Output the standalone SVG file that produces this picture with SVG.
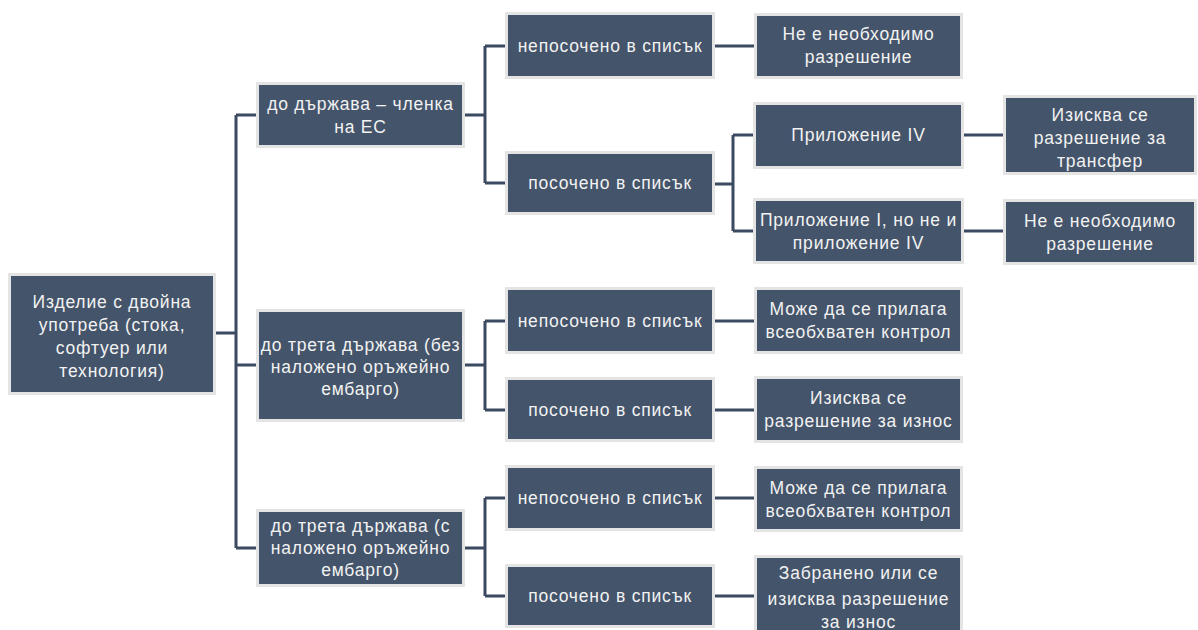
<svg xmlns="http://www.w3.org/2000/svg" width="1198" height="630" viewBox="0 0 1198 630">
<style>
.box{fill:#44546a;stroke:#e4e4e4;stroke-width:3}
.t{font-family:"Liberation Sans",Arial,sans-serif;font-size:17.5px;fill:#f2f2f2;text-anchor:middle;letter-spacing:0.8px}
.c{fill:none;stroke:#3b4a60;stroke-width:3}
</style>
<rect width="1198" height="630" fill="#ffffff"/>
<g id="connectors">
<path class="c" d="M213 333H236M236 115V548M236 115H259M236 365H259M236 548H259"/>
<path class="c" d="M462 115H485M485 46V183M485 46H508M485 183H508"/>
<path class="c" d="M462 365H485M485 321V410M485 321H508M485 410H508"/>
<path class="c" d="M462 548H485M485 498V596M485 498H508M485 596H508"/>
<path class="c" d="M712 46H756M712 184H733M733 135V231M733 135H756M733 231H756"/>
<path class="c" d="M961 135H1006M961 231H1006"/>
<path class="c" d="M712 321H756M712 410H756M712 498H756M712 596H756"/>
</g>
<g id="root">
<rect class="box" x="9.5" y="274.5" width="205" height="119"/>
<text class="t" x="112" y="308">Изделие с двойна</text>
<text class="t" x="112" y="331">употреба (стока,</text>
<text class="t" x="112" y="354">софтуер или</text>
<text class="t" x="112" y="377">технология)</text>
</g>
<g id="eu">
<rect class="box" x="257.5" y="83.5" width="206" height="63"/>
<text class="t" x="360.5" y="110">до държава – членка</text>
<text class="t" x="360.5" y="133">на ЕС</text>
</g>
<g id="third-no-embargo">
<rect class="box" x="257.5" y="310.5" width="206" height="110"/>
<text class="t" x="360.5" y="351">до трета държава (без</text>
<text class="t" x="360.5" y="373">наложено оръжейно</text>
<text class="t" x="360.5" y="395">ембарго)</text>
</g>
<g id="third-embargo">
<rect class="box" x="257.5" y="510.5" width="206" height="75"/>
<text class="t" x="360.5" y="532">до трета държава (с</text>
<text class="t" x="360.5" y="554">наложено оръжейно</text>
<text class="t" x="360.5" y="576">ембарго)</text>
</g>
<g id="eu-unlisted">
<rect class="box" x="506.5" y="13.5" width="207" height="64"/>
<text class="t" x="610" y="52">непосочено в списък</text>
</g>
<g id="eu-listed">
<rect class="box" x="506.5" y="152.5" width="207" height="61"/>
<text class="t" x="610" y="189">посочено в списък</text>
</g>
<g id="ne-unlisted">
<rect class="box" x="506.5" y="288.5" width="207" height="64"/>
<text class="t" x="610" y="327">непосочено в списък</text>
</g>
<g id="ne-listed">
<rect class="box" x="506.5" y="378.5" width="207" height="62"/>
<text class="t" x="610" y="416">посочено в списък</text>
</g>
<g id="em-unlisted">
<rect class="box" x="506.5" y="466.5" width="207" height="63"/>
<text class="t" x="610" y="504">непосочено в списък</text>
</g>
<g id="em-listed">
<rect class="box" x="506.5" y="565.5" width="207" height="61"/>
<text class="t" x="610" y="602">посочено в списък</text>
</g>
<g id="eu-unlisted-result">
<rect class="box" x="755.5" y="14.5" width="206" height="63"/>
<text class="t" x="858.5" y="40">Не е необходимо</text>
<text class="t" x="858.5" y="63">разрешение</text>
</g>
<g id="annex-iv">
<rect class="box" x="754.5" y="103.5" width="208" height="64"/>
<text class="t" x="858.5" y="141">Приложение IV</text>
</g>
<g id="annex-i">
<rect class="box" x="754.5" y="199.5" width="208" height="63"/>
<text class="t" x="858.5" y="226">Приложение I, но не и</text>
<text class="t" x="858.5" y="249">приложение IV</text>
</g>
<g id="annex-iv-result">
<rect class="box" x="1004.5" y="96.5" width="191" height="77"/>
<text class="t" x="1100" y="121">Изисква се</text>
<text class="t" x="1100" y="144">разрешение за</text>
<text class="t" x="1100" y="167">трансфер</text>
</g>
<g id="annex-i-result">
<rect class="box" x="1004.5" y="200.5" width="191" height="63"/>
<text class="t" x="1100" y="227">Не е необходимо</text>
<text class="t" x="1100" y="250">разрешение</text>
</g>
<g id="ne-unlisted-result">
<rect class="box" x="755.5" y="288.5" width="206" height="64"/>
<text class="t" x="858.5" y="315">Може да се прилага</text>
<text class="t" x="858.5" y="338">всеобхватен контрол</text>
</g>
<g id="ne-listed-result">
<rect class="box" x="755.5" y="377.5" width="206" height="64"/>
<text class="t" x="858.5" y="404">Изисква се</text>
<text class="t" x="858.5" y="427">разрешение за износ</text>
</g>
<g id="em-unlisted-result">
<rect class="box" x="755.5" y="467.5" width="206" height="63"/>
<text class="t" x="858.5" y="494">Може да се прилага</text>
<text class="t" x="858.5" y="517">всеобхватен контрол</text>
</g>
<g id="em-listed-result">
<rect class="box" x="755.5" y="556.5" width="206" height="85"/>
<text class="t" x="858.5" y="579">Забранено или се</text>
<text class="t" x="858.5" y="605">изисква разрешение</text>
<text class="t" x="858.5" y="628">за износ</text>
</g>
</svg>
